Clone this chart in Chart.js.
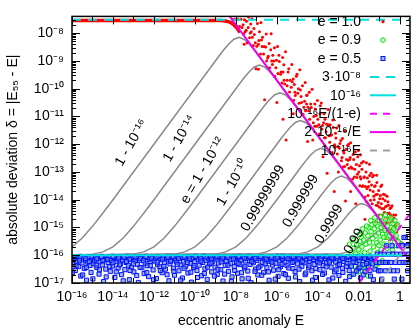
<!DOCTYPE html>
<html><head><meta charset="utf-8">
<script src="https://cdn.jsdelivr.net/npm/chart.js@4.4.1/dist/chart.umd.min.js"></script>
<style>html,body{margin:0;padding:0;background:#fff}canvas{display:block}</style>
</head><body><canvas id="c" width="415" height="332"></canvas>
<script>
// ---------- data (log10 E, log10 delta) ----------
const xTickValues = [1e-16,1e-15,1e-14,1e-13,1e-12,1e-11,1e-10,1e-9,1e-8,1e-7,1e-6,1e-5,1e-4,1e-3,1e-2,1e-1,1];
const xTickLabels = ['10⁻¹⁶','','10⁻¹⁴','','10⁻¹²','','10⁻¹⁰','','10⁻⁸','','10⁻⁶','','10⁻⁴','','0.01','','1'];
const yTickValues = [1e-17,1e-16,1e-15,1e-14,1e-13,1e-12,1e-11,1e-10,1e-9,1e-8];
const yTickLabels = ['10⁻¹⁷','10⁻¹⁶','10⁻¹⁵','10⁻¹⁴','10⁻¹³','10⁻¹²','10⁻¹¹','10⁻¹⁰','10⁻⁹','10⁻⁸'];

const curveNames = ['1 - 10⁻¹⁶','1 - 10⁻¹⁴','e = 1 - 10⁻¹²','1 - 10⁻¹⁰','0.99999999','0.999999','0.9999','0.99'];
const curve16 = [[-16,-15.70],[-15.5,-15.38],[-15,-14.96],[-14.5,-14.49],[-14,-14.0],[-8.85,-8.85],[-8.6,-8.61],[-8.35,-8.39],[-8.1,-8.22],[-7.85,-8.15],[-7.6,-8.22],[-7.35,-8.39],[-7.1,-8.61],[-6.85,-8.85],[-6.35,-9.35],[-5.85,-9.85],[-1,-14.68],[-0.5,-15.13],[0,-15.50],[0.3,-15.62],[0.497,-15.59]];
const curve14 = [[-16,-16.0],[-15,-15.96],[-14.5,-15.88],[-14,-15.70],[-13.5,-15.38],[-13,-14.96],[-12.5,-14.49],[-12,-14.0],[-7.85,-9.85],[-7.6,-9.61],[-7.35,-9.39],[-7.1,-9.22],[-6.85,-9.15],[-6.6,-9.22],[-6.35,-9.39],[-6.1,-9.61],[-5.85,-9.85],[-4.85,-10.85],[-1,-14.68],[-0.5,-15.13],[0,-15.50],[0.3,-15.62],[0.497,-15.59]];
const curve12 = [[-16,-16.0],[-13,-15.96],[-12.5,-15.88],[-12,-15.70],[-11.5,-15.38],[-11,-14.96],[-10.5,-14.49],[-10,-14.0],[-6.85,-10.85],[-6.6,-10.61],[-6.35,-10.39],[-6.1,-10.22],[-5.85,-10.15],[-5.6,-10.22],[-5.35,-10.39],[-5.1,-10.61],[-4.85,-10.85],[-3.85,-11.85],[-1,-14.68],[-0.5,-15.13],[0,-15.50],[0.3,-15.62],[0.497,-15.59]];
const curve10 = [[-16,-16.0],[-11,-15.96],[-10.5,-15.88],[-10,-15.70],[-9.5,-15.38],[-9,-14.96],[-8.5,-14.49],[-8,-14.0],[-5.85,-11.85],[-5.6,-11.61],[-5.35,-11.39],[-5.1,-11.22],[-4.85,-11.15],[-4.6,-11.22],[-4.35,-11.39],[-4.1,-11.61],[-3.85,-11.85],[-2.85,-12.85],[-1,-14.68],[-0.5,-15.13],[0,-15.50],[0.3,-15.62],[0.497,-15.59]];
const curve8 = [[-16,-16.0],[-9,-15.96],[-8.5,-15.88],[-8,-15.70],[-7.5,-15.38],[-7,-14.96],[-6.5,-14.49],[-6,-14.0],[-4.85,-12.85],[-4.6,-12.61],[-4.35,-12.39],[-4.1,-12.22],[-3.85,-12.15],[-3.6,-12.22],[-3.35,-12.39],[-3.1,-12.61],[-2.85,-12.85],[-1.85,-13.85],[-1,-14.68],[-0.5,-15.13],[0,-15.50],[0.3,-15.62],[0.497,-15.59]];
const curve6 = [[-16,-16.0],[-7,-15.96],[-6.5,-15.88],[-6,-15.70],[-5.5,-15.38],[-5,-14.96],[-4.5,-14.49],[-4,-14.0],[-3.85,-13.85],[-3.6,-13.61],[-3.35,-13.39],[-3.1,-13.22],[-2.85,-13.15],[-2.6,-13.22],[-2.35,-13.39],[-2.1,-13.61],[-1.85,-13.85],[-1,-14.68],[-0.5,-15.13],[0,-15.50],[0.3,-15.62],[0.497,-15.59]];
const curve4 = [[-16,-16.0],[-5,-15.96],[-4.5,-15.88],[-4,-15.70],[-3.5,-15.38],[-3,-14.96],[-2.5,-14.51],[-2.25,-14.31],[-2,-14.17],[-1.85,-14.14],[-1.6,-14.21],[-1.35,-14.38],[-1,-14.69],[-0.5,-15.13],[0,-15.50],[0.3,-15.62],[0.497,-15.59]];
const curve2 = [[-16,-16.0],[-3,-15.96],[-2.5,-15.88],[-2,-15.70],[-1.5,-15.40],[-1.25,-15.23],[-1,-15.12],[-0.85,-15.09],[-0.7,-15.11],[-0.52,-15.19],[-0.3,-15.32],[0,-15.50],[0.3,-15.62],[0.497,-15.59]];

// e = 1.0 : dense run at small E, then scatter
const red10Dense = [[-16,-7.55],[-8.7,-7.55],[-8.45,-7.57],[-8.25,-7.62],[-8.1,-7.70],[-7.95,-7.82],[-7.8,-7.98]];
const red10 = [[-8.15,-7.50],[-8.05,-7.50],[-7.95,-7.75],[-7.9,-7.50],[-7.82,-7.76],[-7.75,-7.50],[-7.7,-7.80],[-7.62,-8.03],[-7.58,-7.52],[-7.5,-7.90],
[-7.45,-8.35],[-7.4,-7.80],[-7.33,-8.17],[-7.28,-7.67],[-7.2,-8.15],[-7.15,-8.45],[-7.1,-8.05],[-7.02,-9.28],[-6.98,-8.47],[-6.9,-8.40],
[-6.85,-7.95],[-6.8,-8.75],[-6.72,-8.48],[-6.65,-8.75],[-6.6,-10.40],[-6.55,-8.50],[-6.5,-9.00],[-6.42,-8.83],[-6.35,-9.25],[-6.3,-8.60],
[-6.22,-9.13],[-6.15,-9.00],[-6.1,-9.55],[-6.02,-8.98],[-5.95,-9.45],[-5.9,-8.80],[-5.82,-9.48],[-5.75,-9.80],[-5.7,-9.40],[-5.62,-9.83],
[-5.55,-11.85],[-5.5,-9.70],[-5.45,-9.40],[-5.38,-10.12],[-5.3,-9.95],[-5.25,-9.75],[-5.18,-10.42],[-5.1,-10.25],[-5.05,-9.55],[-4.98,-10.17],
[-4.92,-10.53],[-4.85,-10.05],[-4.8,-10.50],[-4.72,-10.93],[-4.65,-10.45],[-4.6,-10.80],[-4.52,-10.23],[-4.45,-10.80],[-4.4,-11.10],[-4.32,-10.68],
[-4.25,-11.85],[-4.2,-11.00],[-4.12,-10.73],[-4.05,-11.35],[-4.0,-11.10],[-3.92,-11.63],[-3.88,-10.62],[-3.8,-11.45],[-3.72,-11.23],[-3.68,-11.77],
[-3.6,-11.55],[-3.55,-13.05],[-3.5,-11.30],[-3.42,-11.93],[-3.38,-11.67],[-3.3,-12.30],[-3.25,-11.40],[-3.18,-12.02],[-3.12,-11.78],[-3.05,-12.35],
[-3.0,-13.00],[-2.95,-12.15],[-2.88,-11.87],[-2.82,-12.48],[-2.75,-12.25],[-2.7,-12.80],[-2.65,-14.05],[-2.6,-12.55],[-2.55,-12.05],[-2.48,-12.87],
[-2.42,-12.48],[-2.38,-12.82],[-2.3,-13.25],[-2.25,-12.55],[-2.2,-12.90],[-2.15,-14.15],[-2.1,-13.20],[-2.05,-12.45],[-2.0,-13.00],[-1.95,-13.50],
[-1.9,-13.25],[-1.85,-12.90],[-1.8,-13.50],[-1.75,-13.20],[-1.7,-13.90],[-1.65,-13.00],[-1.6,-13.60],[-1.55,-13.85],[-1.5,-13.35],[-1.45,-13.65],
[-1.4,-13.05],[-1.35,-14.15],[-1.3,-13.70],[-1.25,-14.00],[-1.2,-13.50],[-1.15,-14.20],[-1.1,-13.80],[-1.05,-14.10],[-1.0,-14.55],[-0.95,-13.85],
[-0.9,-14.15],[-0.85,-14.55],[-0.8,-13.80],[-0.75,-14.45],[-0.7,-14.25],[-0.65,-14.85],[-0.6,-14.50],[-0.55,-14.20],[-0.5,-14.80],[-0.45,-14.55],
[-0.4,-15.05],[-0.35,-14.80],[-0.3,-14.55],[-0.25,-15.00],[-1.92,-12.38],[-1.62,-14.08],[-1.48,-12.72],[-1.28,-13.12],[-1.12,-13.38],[-0.98,-14.27],
[-0.88,-13.47],[-0.72,-14.03],[-0.62,-13.88],[-0.52,-14.48],[-0.42,-14.28],[-0.32,-14.73],[-2.52,-12.58],[-2.78,-12.82],[-3.15,-12.10],[-3.65,-11.10],
[-4.15,-11.35],[-4.55,-10.55],[-5.15,-9.85],[-5.65,-9.70],[-6.25,-9.00],[-6.75,-8.25],[-7.25,-7.95],[-7.65,-7.70],
[-7.55,-7.95],[-7.48,-7.57],[-7.38,-7.42],[-7.3,-8.00],[-7.22,-7.48],[-7.12,-7.83],[-7.05,-8.35],[-6.95,-7.65],[-6.88,-8.27],[-6.78,-7.62],
[-6.7,-8.15],[-6.62,-8.48],[-6.52,-8.03],[-6.45,-8.90],[-6.38,-8.37],[-6.28,-8.02],[-6.2,-8.80],[-6.12,-8.53],[-6.05,-9.25],[-5.97,-8.48],
[-5.88,-9.02],[-5.8,-9.40],[-5.72,-8.88],[-5.66,-9.14],[-5.58,-8.67],[-5.5,-9.90],[-5.42,-9.28],[-5.35,-9.70],[-5.27,-9.13],[-5.2,-9.65],
[-5.12,-10.13],[-5.02,-9.48],[-4.95,-10.00],[-4.88,-9.32],[-4.82,-10.28],[-4.75,-9.90],[-4.68,-10.67],[-4.62,-9.78],[-4.55,-10.25],[-4.48,-10.67],
[-4.42,-10.13],[-4.35,-10.55],[-4.28,-10.02],[-4.22,-11.23],[-4.15,-10.55],[-4.08,-10.97],[-4.02,-10.43],[-3.95,-11.30],[-3.9,-10.90],[-3.83,-10.52],
[-3.77,-11.33],[-3.7,-10.90],[-3.63,-11.77],[-3.57,-11.28],[-3.5,-10.75],[-3.45,-11.70],[-3.4,-11.30],[-3.33,-11.67],[-3.27,-11.13],[-3.2,-12.10],
[-3.14,-11.61],[-3.08,-11.42],[-3.02,-12.08],[-2.97,-11.33],[-2.92,-11.98],[-2.85,-12.60],[-2.8,-11.80],[-2.73,-12.32],[-2.68,-11.52],[-2.62,-12.18],
[-2.57,-12.73],[-2.5,-12.00],[-2.45,-12.55],[-2.4,-11.95],[-2.33,-12.87],[-2.28,-12.37],[-2.22,-13.18],[-2.17,-12.28],[-2.12,-12.73],[-2.07,-13.08],
[-2.02,-12.23],[-1.97,-12.78],[-1.93,-13.17],[-1.87,-12.68],[-1.83,-13.52],[-1.78,-12.62],[-1.73,-13.17],[-1.68,-13.52],[-1.63,-12.67],[-1.58,-13.22],
[-1.53,-13.52],[-1.47,-13.13],[-1.43,-14.02],[-1.38,-13.47],[-1.33,-13.17],[-1.27,-13.88],[-1.23,-13.52],[-1.18,-13.82],[-1.13,-13.12],[-1.08,-14.22],
[-1.03,-13.67],[-0.98,-13.97],[-0.93,-13.52],[-0.87,-14.33],[-0.83,-13.97],[-0.78,-14.32],[-0.73,-13.82],[-0.68,-14.67],[-0.63,-14.22],[-0.58,-14.07],
[-0.53,-14.67],[-0.48,-14.32],[-0.43,-14.62],[-0.38,-14.22],[-0.33,-15.07],[-0.28,-14.67],[-0.23,-14.92],[-0.2,-14.55],[-0.15,-15.15],[-0.12,-14.88],
[-6.9,-9.30],[-6.0,-10.50],[-5.2,-10.90],[-4.5,-11.90],[-3.75,-12.45],[-3.2,-13.70],[-2.4,-13.70],[-1.7,-14.70],[-1.2,-14.80],[-0.7,-15.40],
[-7.6,-8.40],[-5.7,-11.10]];

// e = 0.9
const green09 = [[-2.42,-16.3],[-2.38,-15.9],[-2.3,-16.1],[-2.25,-15.75],[-2.2,-16.4],[-2.15,-15.95],[-2.1,-15.6],[-2.05,-16.2],[-2.0,-15.8],[-1.95,-15.5],
[-1.92,-16.0],[-1.88,-15.35],[-1.85,-15.7],[-1.8,-16.25],[-1.76,-15.45],[-1.72,-15.9],[-1.68,-15.2],[-1.65,-15.6],[-1.6,-16.05],[-1.56,-15.3],
[-1.52,-15.0],[-1.48,-15.55],[-1.45,-15.85],[-1.4,-15.15],[-1.36,-14.9],[-1.32,-15.4],[-1.28,-15.7],[-1.25,-15.05],[-1.2,-14.85],[-1.16,-15.3],
[-1.12,-15.55],[-1.08,-14.95],[-1.04,-15.2],[-1.0,-14.75],[-0.96,-15.45],[-0.92,-15.0],[-0.88,-14.8],[-0.84,-15.25],[-0.8,-14.9],[-0.76,-15.6],
[-0.72,-15.1],[-0.68,-14.7],[-0.64,-15.35],[-0.6,-14.95],[-0.55,-15.15],[-0.5,-14.75],[-0.46,-15.5],[-0.42,-15.0],[-0.38,-15.25],[-0.33,-14.85],
[-0.28,-15.4],[-0.22,-15.1],[-0.16,-15.65],[-1.9,-16.45],[-1.7,-16.6],[-1.5,-16.35],[-2.35,-16.7],[-1.3,-16.1],[-1.1,-15.9],[-0.9,-15.8],
[-2.45,-15.6],[-2.28,-15.45],[-2.12,-16.55],[-1.98,-15.25],[-1.82,-15.05],[-1.74,-16.35],[-1.62,-14.95],[-1.58,-16.5],[-1.42,-14.75],[-1.38,-16.25],
[-1.22,-14.65],[-1.18,-16.4],[-1.02,-15.65],[-0.94,-14.6],[-0.86,-16.2],[-0.78,-15.35],[-0.7,-14.55],[-0.62,-15.75],[-0.52,-15.3],[-0.44,-14.65],
[-0.36,-15.8],[-0.3,-15.05],[-0.24,-14.75],[-0.18,-15.3],[-0.12,-14.9],[-0.08,-15.5],[-2.5,-16.05],[-2.02,-16.6],[-1.55,-16.75],[-1.05,-16.3]];

// e = 0.5
const blue05 = [[-16.0,-16.08],[-15.95,-16.32],[-15.9,-16.15],[-15.84,-16.55],[-15.78,-16.22],[-15.73,-16.05],[-15.67,-16.41],[-15.62,-16.12],[-15.57,-16.75],[-15.51,-16.28],
[-15.45,-16.09],[-15.4,-16.48],[-15.34,-16.18],[-15.29,-16.9],[-15.23,-16.25],[-15.18,-16.06],[-15.12,-16.37],[-15.07,-16.62],[-15.01,-16.14],[-14.96,-16.3],
[-14.9,-16.2],[-14.85,-16.07],[-14.79,-16.44],[-14.74,-16.11],[-14.68,-16.68],[-14.63,-16.24],[-14.57,-16.04],[-14.52,-16.35],[-14.46,-16.95],[-14.41,-16.16],
[-14.35,-16.5],[-14.3,-16.1],[-14.24,-16.27],[-14.19,-16.06],[-14.13,-16.58],[-14.08,-16.19],[-14.02,-16.39],[-13.97,-16.08],[-13.91,-16.8],[-13.86,-16.23],
[-13.8,-16.13],[-13.75,-16.46],[-13.69,-16.05],[-13.64,-16.31],[-13.58,-16.7],[-13.53,-16.17],[-13.47,-16.09],[-13.42,-16.52],[-13.36,-16.26],[-13.31,-16.04],
[-13.25,-16.36],[-13.2,-16.88],[-13.14,-16.14],[-13.09,-16.43],[-13.03,-16.07],[-12.98,-16.6],[-12.92,-16.21],[-12.87,-16.1],[-12.81,-16.33],[-12.76,-16.98],
[-12.7,-16.18],[-12.65,-16.05],[-12.59,-16.45],[-12.54,-16.12],[-12.48,-16.66],[-12.43,-16.29],[-12.37,-16.08],[-12.32,-16.38],[-12.26,-16.77],[-12.21,-16.15],
[-12.15,-16.24],[-12.1,-16.06],[-12.04,-16.53],[-11.99,-16.2],[-11.93,-16.11],[-11.88,-16.84],[-11.82,-16.34],[-11.77,-16.05],[-11.71,-16.42],[-11.66,-16.16],
[-11.6,-16.63],[-11.55,-16.09],[-11.49,-16.27],[-11.44,-16.5],[-11.38,-16.13],[-11.33,-16.04],[-11.27,-16.92],[-11.22,-16.31],[-11.16,-16.19],[-11.11,-16.07],
[-11.05,-16.47],[-11.0,-16.72],[-10.94,-16.14],[-10.89,-16.25],[-10.83,-16.06],[-10.78,-16.56],[-10.72,-16.35],[-10.67,-16.1],[-10.61,-16.82],[-10.56,-16.21],
[-10.5,-16.08],[-10.45,-16.4],[-10.39,-16.17],[-10.34,-16.64],[-10.28,-16.05],[-10.23,-16.3],[-10.17,-16.97],[-10.12,-16.12],[-10.06,-16.44],[-10.01,-16.23],
[-9.95,-16.06],[-9.9,-16.55],[-9.84,-16.15],[-9.79,-16.36],[-9.73,-16.09],[-9.68,-16.74],[-9.62,-16.26],[-9.57,-16.04],[-9.51,-16.49],[-9.46,-16.18],
[-9.4,-16.87],[-9.35,-16.11],[-9.29,-16.32],[-9.24,-16.07],[-9.18,-16.6],[-9.13,-16.22],[-9.07,-16.13],[-9.02,-16.43],[-8.96,-16.05],[-8.91,-16.69],
[-8.85,-16.28],[-8.8,-16.1],[-8.74,-16.52],[-8.69,-16.16],[-8.63,-16.93],[-8.58,-16.06],[-8.52,-16.37],[-8.47,-16.2],[-8.41,-16.08],[-8.36,-16.58],
[-8.3,-16.14],[-8.25,-16.3],[-8.19,-16.78],[-8.14,-16.05],[-8.08,-16.41],[-8.03,-16.12],[-7.97,-16.24],[-7.92,-16.65],[-7.86,-16.09],[-7.81,-16.34],
[-7.75,-16.17],[-7.7,-16.85],[-7.64,-16.06],[-7.59,-16.46],[-7.53,-16.21],[-7.48,-16.11],[-7.42,-16.57],[-7.37,-16.04],[-7.31,-16.33],[-7.26,-16.99],
[-7.2,-16.15],[-7.15,-16.27],[-7.09,-16.07],[-7.04,-16.5],[-6.98,-16.19],[-6.93,-16.71],[-6.87,-16.1],[-6.82,-16.39],[-6.76,-16.05],[-6.71,-16.26],
[-6.65,-16.62],[-6.6,-16.13],[-6.54,-16.08],[-6.49,-16.44],[-6.43,-16.22],[-6.38,-16.9],[-6.32,-16.16],[-6.27,-16.06],[-6.21,-16.35],[-6.16,-16.54],
[-6.1,-16.11],[-6.05,-16.29],[-5.99,-16.04],[-5.94,-16.76],[-5.88,-16.2],[-5.83,-16.42],[-5.77,-16.09],[-5.72,-16.14],[-5.66,-16.66],[-5.61,-16.25],
[-5.55,-16.07],[-5.5,-16.38],[-5.44,-16.83],[-5.39,-16.12],[-5.33,-16.18],[-5.28,-16.05],[-5.22,-16.48],[-5.17,-16.23],[-5.11,-16.59],[-5.06,-16.1],
[-5.0,-16.31],[-4.95,-16.06],[-4.89,-16.95],[-4.84,-16.16],[-4.78,-16.4],[-4.73,-16.08],[-4.67,-16.27],[-4.62,-16.7],[-4.56,-16.13],[-4.51,-16.04],
[-4.45,-16.45],[-4.4,-16.21],[-4.34,-16.09],[-4.29,-16.56],[-4.23,-16.15],[-4.18,-16.33],[-4.12,-16.8],[-4.07,-16.06],[-4.01,-16.24],[-3.96,-16.11],
[-3.9,-16.52],[-3.85,-16.18],[-3.79,-16.05],[-3.74,-16.37],[-3.68,-16.64],[-3.63,-16.12],[-3.57,-16.28],[-3.52,-16.07],[-3.46,-16.89],[-3.41,-16.2],
[-3.35,-16.43],[-3.3,-16.1],[-3.24,-16.14],[-3.19,-16.6],[-3.13,-16.25],[-3.08,-16.05],[-3.02,-16.36],[-2.97,-16.73],[-2.91,-16.17],[-2.86,-16.08],
[-2.8,-16.47],[-2.75,-16.22],[-2.69,-16.11],[-2.64,-16.94],[-2.58,-16.3],[-2.53,-16.06],[-2.47,-16.55],[-2.42,-16.16],[-2.36,-16.39],[-2.31,-16.09],
[-2.25,-16.68],[-2.2,-16.13],[-2.14,-16.26],[-2.09,-16.05],[-2.03,-16.49],[-1.98,-16.2],[-1.92,-16.82],[-1.87,-16.1],[-1.81,-16.34],[-1.76,-16.07],
[-1.7,-16.58],[-1.65,-16.15],[-1.59,-16.23],[-1.54,-16.41],[-1.48,-16.06],[-1.43,-16.75],[-1.37,-16.12],[-1.32,-16.31],[-1.26,-16.08],[-1.21,-16.5],
[-1.15,-16.26],[-1.1,-15.96],[-1.04,-16.56],[-0.99,-16.26],[-0.93,-15.96],[-0.88,-16.86],[-0.82,-16.26],[-0.77,-15.96],[-0.71,-16.56],[-0.66,-15.66],
[-0.6,-16.26],[-0.55,-15.96],[-0.49,-16.56],[-0.44,-16.26],[-0.38,-15.66],[-0.33,-15.96],[-0.27,-16.86],[-0.22,-16.26],[-0.16,-15.96],[-0.11,-16.56],
[-0.05,-15.66],[0.0,-16.26],[0.05,-15.96],[0.11,-15.66],[0.16,-16.26],[0.22,-15.96],[0.27,-15.36],[0.33,-15.66],[0.38,-16.56],[0.44,-15.96],
[0.2,-15.36],[0.4,-15.66],[0.3,-16.26],[-0.3,-16.56],[-0.7,-16.26],[-0.95,-16.56],[0.1,-16.86],[0.45,-16.26],
[-15.87,-16.1],[-15.6,-16.04],[-15.33,-16.12],[-15.06,-16.05],[-14.8,-16.13],[-14.55,-16.06],[-14.27,-16.15],[-14.0,-16.04],[-13.73,-16.1],[-13.46,-16.07],
[-13.2,-16.14],[-12.93,-16.05],[-12.66,-16.12],[-12.4,-16.04],[-12.13,-16.11],[-11.86,-16.06],[-11.59,-16.14],[-11.32,-16.08],[-11.06,-16.05],[-10.8,-16.12],
[-10.53,-16.06],[-10.26,-16.13],[-9.99,-16.04],[-9.72,-16.11],[-9.46,-16.06],[-9.19,-16.14],[-8.92,-16.05],[-8.66,-16.1],[-8.39,-16.07],[-8.12,-16.13],
[-7.86,-16.04],[-7.59,-16.11],[-7.32,-16.06],[-7.06,-16.12],[-6.79,-16.05],[-6.52,-16.14],[-6.26,-16.08],[-5.99,-16.1],[-5.72,-16.04],[-5.46,-16.13],
[-5.19,-16.06],[-4.92,-16.11],[-4.66,-16.05],[-4.39,-16.12],[-4.12,-16.07],[-3.86,-16.14],[-3.59,-16.04],[-3.32,-16.1],[-3.06,-16.06],[-2.79,-16.12],
[-2.52,-16.05],[-2.26,-16.13],[-1.99,-16.07],[-1.72,-16.11],[-1.46,-16.04],
[-15.98,-16.62],[-15.8,-16.38],[-15.64,-16.2],[-15.48,-16.71],[-15.3,-16.44],[-15.15,-16.23],[-14.98,-16.85],[-14.82,-16.36],[-14.66,-16.52],[-14.5,-16.19],
[-14.33,-16.78],[-14.16,-16.41],[-14.0,-16.27],[-13.84,-16.6],[-13.67,-16.35],[-13.5,-16.92],[-13.34,-16.22],[-13.17,-16.55],[-13.0,-16.31],[-12.84,-16.73],
[-12.68,-16.44],[-12.51,-16.2],[-12.35,-16.62],[-12.18,-16.37],[-12.02,-16.88],[-11.85,-16.25],[-11.69,-16.55],[-11.52,-16.4],[-11.36,-16.7],[-11.19,-16.22],
[-11.03,-16.58],[-10.86,-16.34],[-10.7,-16.9],[-10.53,-16.47],[-10.37,-16.26],[-10.2,-16.61],[-10.04,-16.38],[-9.87,-16.8],[-9.71,-16.21],[-9.54,-16.66],
[-9.38,-16.43],[-9.21,-16.28],[-9.05,-16.75],[-8.88,-16.5],[-8.72,-16.24],[-8.55,-16.68],[-8.39,-16.36],[-8.22,-16.94],[-8.06,-16.55],[-7.89,-16.29],
[-7.73,-16.63],[-7.56,-16.4],[-7.4,-16.83],[-7.23,-16.23],[-7.07,-16.58],[-6.9,-16.45],[-6.74,-16.72],[-6.57,-16.31],[-6.41,-16.6],[-6.24,-16.25],
[-6.08,-16.86],[-5.91,-16.52],[-5.75,-16.33],[-5.58,-16.7],[-5.42,-16.46],[-5.25,-16.26],[-5.09,-16.78],[-4.92,-16.5],[-4.76,-16.22],[-4.59,-16.64],
[-4.43,-16.38],[-4.26,-16.9],[-4.1,-16.48],[-3.93,-16.28],[-3.77,-16.69],[-3.6,-16.42],[-3.44,-16.25],[-3.27,-16.82],[-3.11,-16.53],[-2.94,-16.33],
[-2.78,-16.62],[-2.61,-16.4],[-2.45,-16.77],[-2.28,-16.24],[-2.12,-16.57],[-1.95,-16.43],[-1.79,-16.71],[-1.62,-16.3],[-1.46,-16.55],[-1.29,-16.88]];

// reference lines (end points, linear values)
const line3e8 = [[1e-16,3e-8],[Math.PI,3e-8]];
const line1e16 = [[1e-16,1e-16],[Math.PI,1e-16]];
const lineEoverOneMinusE = [[0.01,1e-17],[Math.PI,3.14e-15]];
const lineTwoOverE = [[5e-9,4e-8],[Math.PI,6.37e-17]];
const lineE = [[0.1,1e-17],[Math.PI,3.14e-16]];

// ---------- helpers ----------
const fromLog = a => a.map(p => ({x: Math.pow(10, p[0]), y: Math.pow(10, p[1])}));
const fromLin = a => a.map(p => ({x: p[0], y: p[1]}));
const FAMILY = '"Liberation Sans", Arial, Helvetica, sans-serif';
const FONT = '14px ' + FAMILY;

const GRAY = '#8a8a8a';
const curveSets = [curve16, curve14, curve12, curve10, curve8, curve6, curve4, curve2].map((c, i) => ({
  label: curveNames[i], data: fromLog(c), showLine: true, borderColor: GRAY, borderWidth: 1.5,
  pointRadius: 0, order: 20
}));

const datasets = [
  ...curveSets,
  {label:'e = 1.0 run', data: fromLog(red10Dense), showLine:true, borderColor:'#ff0000', borderWidth:3.5, pointRadius:0, order:12},
  {label:'e = 1.0', data: fromLog(red10), pointStyle:'circle', pointRadius:1.5, pointBackgroundColor:'#ff0000', pointBorderWidth:0, order:11},
  {label:'e = 0.9', data: fromLog(green09), pointStyle:'circle', pointRadius:2.3, pointBackgroundColor:'rgba(190,255,190,0.6)', pointBorderColor:'#00dd00', pointBorderWidth:1, order:10},
  {label:'e = 0.5', data: fromLog(blue05), pointStyle:'rect', pointRadius:2.9, pointBackgroundColor:'rgba(100,130,220,0.6)', pointBorderColor:'#0010ff', pointBorderWidth:1, order:9},
  {label:'3·10⁻⁸', data: fromLin(line3e8), showLine:true, borderColor:'#00e0e0', borderWidth:2, borderDash:[9,7], pointRadius:0, order:5},
  {label:'10⁻¹⁶', data: fromLin(line1e16), showLine:true, borderColor:'#00e0e0', borderWidth:2, pointRadius:0, order:4},
  {label:'10⁻¹⁶E/(1-e)', data: fromLin(lineEoverOneMinusE), showLine:true, borderColor:'#ff00ff', borderWidth:2, borderDash:[7,6], pointRadius:0, order:3},
  {label:'2·10⁻¹⁶/E', data: fromLin(lineTwoOverE), showLine:true, borderColor:'#ee00ee', borderWidth:2, pointRadius:0, order:2},
  {label:'10⁻¹⁶E', data: fromLin(lineE), showLine:true, borderColor:'#a0a0a0', borderWidth:2, borderDash:[7,6], pointRadius:0, order:1}
];

// on-plot curve labels: anchor (log E, log delta), rotation in degrees
const curveLabelAnchors = [
  [-13.10,-11.95],[-10.75,-11.80],[-9.62,-12.95],[-8.15,-13.40],[-6.68,-13.95],[-4.84,-14.05],[-3.45,-14.88],[-2.23,-15.50]
];
const curveLabelAngle = 60;

const legendRows = [
  {text:'e = 1.0', kind:'dot'},
  {text:'e = 0.9', kind:'circle'},
  {text:'e = 0.5', kind:'square'},
  {text:'3·10⁻⁸', kind:'line', color:'#00e0e0', dash:[9,7]},
  {text:'10⁻¹⁶', kind:'line', color:'#00e0e0', dash:[]},
  {text:'10⁻¹⁶E/(1-e)', kind:'line', color:'#ff00ff', dash:[7,6]},
  {text:'2·10⁻¹⁶/E', kind:'line', color:'#ee00ee', dash:[]},
  {text:'10⁻¹⁶E', kind:'line', color:'#a0a0a0', dash:[7,6]}
];

const overlay = {
  id: 'overlay',
  afterDatasetsDraw(chart) {
    const {ctx, chartArea: {left, right, top, bottom}, scales: {x, y}} = chart;
    ctx.save();
    ctx.font = FONT; ctx.fillStyle = '#000'; ctx.textAlign = 'center'; ctx.textBaseline = 'middle';
    curveLabelAnchors.forEach((a, i) => {
      const px = x.getPixelForValue(Math.pow(10, a[0]));
      const py = y.getPixelForValue(Math.pow(10, a[1]));
      ctx.save(); ctx.translate(px, py); ctx.rotate(-curveLabelAngle * Math.PI / 180);
      ctx.fillText(curveNames[i], 0, 0); ctx.restore();
    });
    legendRows.forEach((r, i) => {
      const yy = 21.7 + i * 18.4;
      ctx.font = FONT; ctx.fillStyle = '#000'; ctx.textAlign = 'right'; ctx.textBaseline = 'middle';
      ctx.fillText(r.text, 361, yy + 0.5);
      ctx.setLineDash([]);
      if (r.kind === 'dot') {
        ctx.beginPath(); ctx.arc(383, yy, 1.6, 0, 2 * Math.PI); ctx.fillStyle = '#ff0000'; ctx.fill();
      } else if (r.kind === 'circle') {
        ctx.beginPath(); ctx.arc(383, yy, 2.3, 0, 2 * Math.PI); ctx.fillStyle = 'rgba(190,255,190,0.6)'; ctx.fill();
        ctx.strokeStyle = '#00dd00'; ctx.lineWidth = 1; ctx.stroke();
      } else if (r.kind === 'square') {
        ctx.fillStyle = 'rgba(100,130,220,0.6)'; ctx.fillRect(381, yy - 2, 4, 4);
        ctx.strokeStyle = '#0010ff'; ctx.lineWidth = 1; ctx.strokeRect(381, yy - 2, 4, 4);
      } else {
        ctx.beginPath(); ctx.setLineDash(r.dash); ctx.strokeStyle = r.color; ctx.lineWidth = 2;
        ctx.moveTo(370, yy); ctx.lineTo(396, yy); ctx.stroke(); ctx.setLineDash([]);
      }
    });
    ctx.strokeStyle = '#000'; ctx.lineWidth = 1;
    const seg = (x1, y1, x2, y2) => { ctx.beginPath(); ctx.moveTo(x1, y1); ctx.lineTo(x2, y2); ctx.stroke(); };
    xTickValues.forEach((v, i) => {
      const px = Math.round(x.getPixelForValue(v)) + 0.5;
      const len = xTickLabels[i] ? 8 : 5;
      seg(px, bottom, px, bottom - len); seg(px, top, px, top + len);
    });
    yTickValues.forEach(v => {
      for (let m = 1; m <= 9; m++) {
        const val = v * m;
        if (val > y.max) break;
        const py = Math.round(y.getPixelForValue(val)) + 0.5;
        const len = m === 1 ? 8 : 4;
        seg(left, py, left + len, py); seg(right, py, right - len, py);
      }
    });
    ctx.lineWidth = 1.5;
    ctx.strokeRect(left, top, right - left, bottom - top);
    ctx.restore();
  }
};

new Chart(document.getElementById('c'), {
  type: 'scatter',
  data: { datasets },
  options: {
    responsive: false, animation: false, devicePixelRatio: 1, events: [],
    layout: { padding: { top: 5, right: 2, left: 0, bottom: 0 } },
    plugins: { legend: { display: false }, tooltip: { enabled: false } },
    scales: {
      x: {
        type: 'logarithmic', min: 1e-16, max: Math.PI,
        afterBuildTicks: s => { s.ticks = xTickValues.map(v => ({ value: v })); },
        afterFit: s => { s.height = 49; },
        ticks: { autoSkip: false, maxRotation: 0, minRotation: 0, padding: 6, color: '#000',
          font: { family: FAMILY, size: 14 },
          callback: (v, i) => xTickLabels[i] },
        grid: { display: false, drawTicks: false }, border: { display: false },
        title: { display: true, text: 'eccentric anomaly E', color: '#000',
          font: { family: FAMILY, size: 14 }, padding: { top: 0, bottom: 2 } }
      },
      y: {
        type: 'logarithmic', min: 1e-17, max: 4e-8,
        afterBuildTicks: s => { s.ticks = yTickValues.map(v => ({ value: v })); },
        afterFit: s => { s.width = 72; },
        ticks: { autoSkip: false, padding: 8, color: '#000',
          font: { family: FAMILY, size: 14 },
          callback: (v, i) => yTickLabels[i] },
        grid: { display: false, drawTicks: false }, border: { display: false },
        title: { display: true, text: 'absolute deviation δ = |E₅₅ - E|', color: '#000',
          font: { family: FAMILY, size: 14 }, padding: { top: 4.5, bottom: 0 } }
      }
    }
  },
  plugins: [overlay]
});
</script></body></html>
